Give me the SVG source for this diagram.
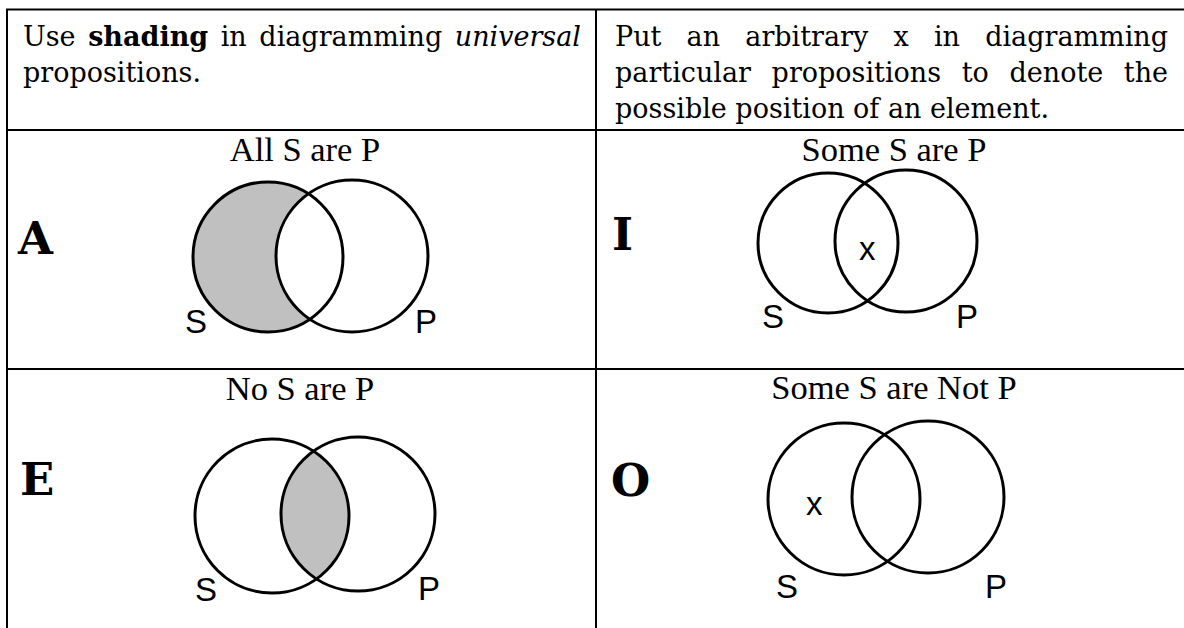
<svg xmlns="http://www.w3.org/2000/svg" width="1184" height="628" viewBox="0 0 1184 628">
<style>
.hd{font-family:"DejaVu Serif","Liberation Serif",serif;font-size:27px;fill:#000}
.cap{font-family:"Liberation Serif","Times New Roman",serif;font-size:34.5px;fill:#000;text-anchor:middle}
.big{font-family:"DejaVu Serif","Liberation Serif",serif;font-size:45px;font-weight:bold;fill:#000}
.lb{font-family:"Liberation Sans",Arial,sans-serif;font-size:33px;fill:#000}
.ln{stroke:#000;stroke-width:2;fill:none}
.c{stroke:#000;stroke-width:3;fill:none}
</style>
<defs>
<clipPath id="clipEP"><circle cx="358" cy="514" r="77"/></clipPath>
</defs>
<rect width="1184" height="628" fill="#fff"/>
<g id="table">
<line class="ln" x1="6" y1="9.5" x2="1184" y2="9.5"/>
<line class="ln" x1="6" y1="130" x2="1184" y2="130"/>
<line class="ln" x1="6" y1="369" x2="1184" y2="369"/>
<line class="ln" x1="7" y1="9" x2="7" y2="628"/>
<line class="ln" x1="596" y1="9" x2="596" y2="628"/>
</g>
<g id="header-left">
<text class="hd" x="23" y="46" word-spacing="4">Use <tspan font-weight="bold">shading</tspan> in diagramming <tspan font-style="italic">universal</tspan></text>
<text class="hd" x="23" y="82">propositions.</text>
</g>
<g id="header-right">
<text class="hd" y="46"><tspan x="615">Put</tspan><tspan x="686.6">an</tspan><tspan x="745.3">arbitrary</tspan><tspan x="893.5">x</tspan><tspan x="933.9">in</tspan></text>
<text class="hd" x="1168" y="46" text-anchor="end">diagramming</text>
<text class="hd" y="82"><tspan x="615">particular</tspan><tspan x="771.6">propositions</tspan><tspan x="961.7">to</tspan><tspan x="1009.5">denote</tspan></text>
<text class="hd" x="1168" y="82" text-anchor="end">the</text>
<text class="hd" x="615" y="118">possible position of an element.</text>
</g>
<g id="cell-A">
<text class="cap" x="305" y="161">All S are P</text>
<text class="big" x="18" y="254">A</text>
<circle cx="268" cy="257" r="75" fill="#c0c0c0"/>
<circle cx="352" cy="256" r="76" fill="#fff"/>
<circle class="c" cx="268" cy="257" r="75"/>
<circle class="c" cx="352" cy="256" r="76"/>
<text class="lb" x="185" y="333">S</text>
<text class="lb" x="415" y="333">P</text>
</g>
<g id="cell-I">
<text class="cap" x="894" y="161">Some S are P</text>
<text class="big" x="612" y="250">I</text>
<circle class="c" cx="828" cy="243" r="70"/>
<circle class="c" cx="906" cy="241" r="71"/>
<text class="lb" x="859" y="260">x</text>
<text class="lb" x="762" y="328">S</text>
<text class="lb" x="956" y="328">P</text>
</g>
<g id="cell-E">
<text class="cap" x="300" y="400">No S are P</text>
<text class="big" x="20" y="495">E</text>
<circle cx="272" cy="516" r="77" fill="#c0c0c0" clip-path="url(#clipEP)"/>
<circle class="c" cx="272" cy="516" r="77"/>
<circle class="c" cx="358" cy="514" r="77"/>
<text class="lb" x="195" y="601">S</text>
<text class="lb" x="418" y="600">P</text>
</g>
<g id="cell-O">
<text class="cap" x="894" y="399">Some S are Not P</text>
<text class="big" x="611" y="496">O</text>
<circle class="c" cx="844" cy="499" r="76"/>
<circle class="c" cx="928" cy="497" r="76"/>
<text class="lb" x="806" y="515">x</text>
<text class="lb" x="776" y="598">S</text>
<text class="lb" x="985" y="598">P</text>
</g>
</svg>
